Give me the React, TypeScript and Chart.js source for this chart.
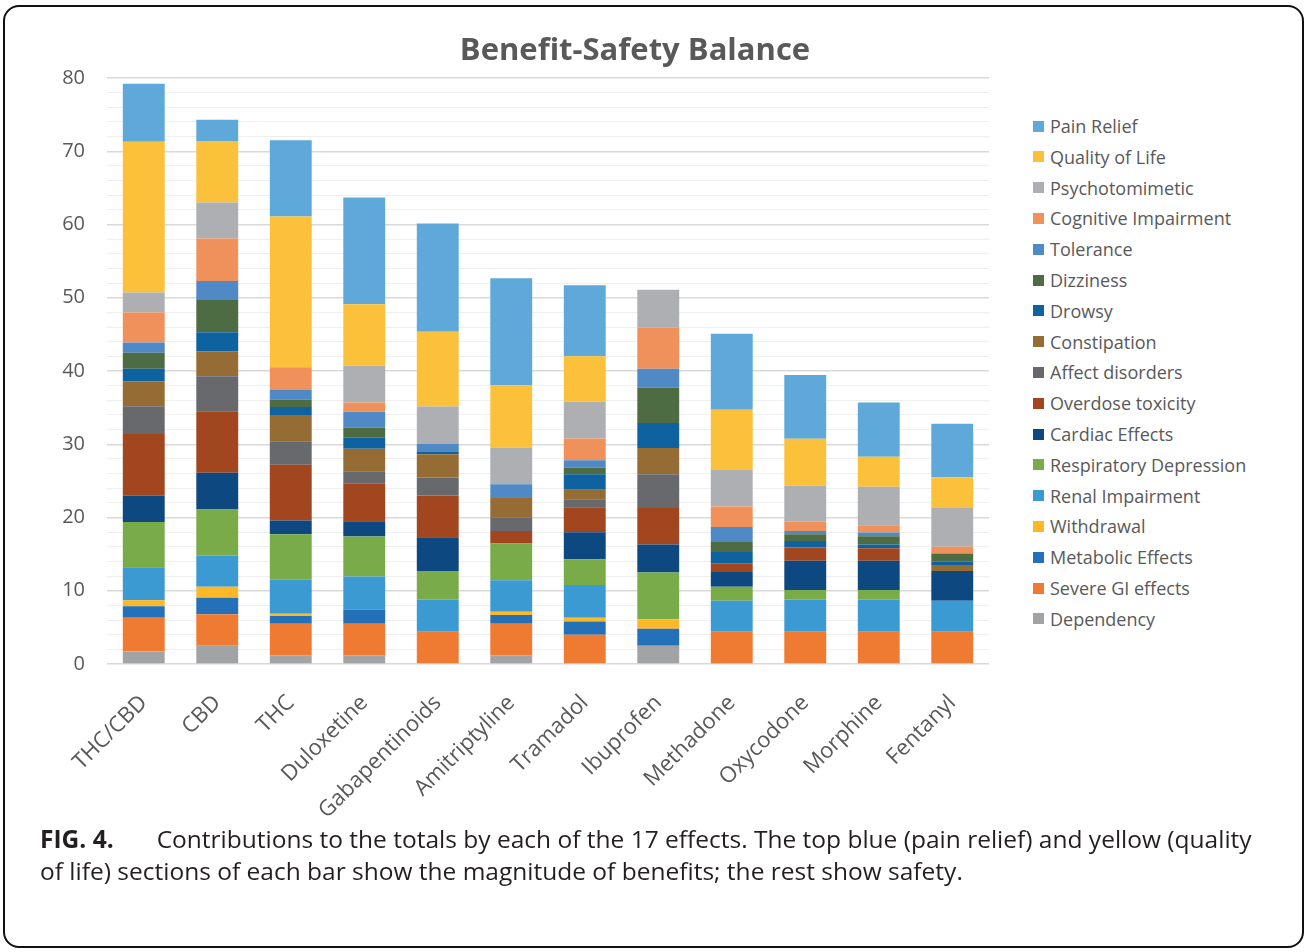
import React, { useEffect, useRef } from "react";
import { Chart, registerables } from "chart.js";

Chart.register(...registerables);

const categories = ["THC/CBD", "CBD", "THC", "Duloxetine", "Gabapentinoids", "Amitriptyline", "Tramadol", "Ibuprofen", "Methadone", "Oxycodone", "Morphine", "Fentanyl"];

const dependency = [1.7, 2.5, 1.2, 1.2, 0, 1.2, 0, 2.5, 0, 0, 0, 0];
const severeGI = [4.6, 4.3, 4.3, 4.3, 4.4, 4.3, 4.0, 0, 4.4, 4.4, 4.4, 4.4];
const metabolic = [1.6, 2.25, 1.05, 1.9, 0, 1.2, 1.8, 2.3, 0, 0, 0, 0];
const withdrawal = [0.8, 1.5, 0.3, 0, 0, 0.45, 0.5, 1.3, 0, 0, 0, 0];
const renal = [4.5, 4.25, 4.65, 4.55, 4.4, 4.3, 4.5, 0, 4.25, 4.4, 4.4, 4.25];
const respiratory = [6.2, 6.3, 6.2, 5.45, 3.9, 5.0, 3.5, 6.4, 1.9, 1.3, 1.3, 0];
const cardiac = [3.6, 5.0, 1.9, 2.1, 4.6, 0, 3.7, 3.8, 2.0, 4.0, 4.0, 4.05];
const overdose = [8.4, 8.4, 7.6, 5.1, 5.7, 1.7, 3.4, 5.0, 1.2, 1.8, 1.7, 0];
const affect = [3.8, 4.8, 3.2, 1.7, 2.45, 1.9, 1.1, 4.6, 0, 0, 0, 0];
const constipation = [3.4, 3.4, 3.6, 3.1, 3.2, 2.6, 1.3, 3.6, 0, 0, 0, 0.8];
const drowsy = [1.7, 2.6, 1.1, 1.5, 0.3, 0, 2.1, 3.4, 1.55, 0.9, 0.5, 0.45];
const dizziness = [2.2, 4.4, 1.0, 1.4, 0, 0, 0.9, 4.8, 1.45, 0.9, 1.15, 1.15];
const tolerance = [1.4, 2.6, 1.3, 2.15, 1.1, 1.9, 1.0, 2.6, 1.95, 0.45, 0.5, 0];
const cognitive = [4.1, 5.8, 3.1, 1.25, 0, 0, 3.0, 5.6, 2.8, 1.3, 1.0, 0.9];
const psychotomimetic = [2.7, 4.9, 0, 5.0, 5.1, 5.0, 5.0, 5.2, 5.0, 4.9, 5.25, 5.3];
const qualityOfLife = [20.6, 8.4, 20.6, 8.4, 10.2, 8.5, 6.2, 0, 8.2, 6.4, 4.1, 4.2];
const painRelief = [7.9, 2.9, 10.4, 14.6, 14.8, 14.6, 9.7, 0, 10.4, 8.7, 7.4, 7.3];

const yTicks = [0, 10, 20, 30, 40, 50, 60, 70, 80];

// bottom-to-top stacking order
const seriesNames = ["Dependency", "Severe GI effects", "Metabolic Effects", "Withdrawal", "Renal Impairment", "Respiratory Depression", "Cardiac Effects", "Overdose toxicity", "Affect disorders", "Constipation", "Drowsy", "Dizziness", "Tolerance", "Cognitive Impairment", "Psychotomimetic", "Quality of Life", "Pain Relief"];
const seriesValues = [dependency, severeGI, metabolic, withdrawal, renal, respiratory, cardiac, overdose, affect, constipation, drowsy, dizziness, tolerance, cognitive, psychotomimetic, qualityOfLife, painRelief];
const seriesColors = ["#a2a3a5", "#ef7b32", "#2471b9", "#fcb827", "#3c9ad3", "#79ab49", "#0d4880", "#a1461f", "#68696c", "#956c33", "#0f62a0", "#4e6c44", "#4f89c6", "#f0915b", "#aeafb2", "#fbc13a", "#5ea9da"];

const GREY = "#595959";

export default function App() {
  const canvasRef = useRef<HTMLCanvasElement | null>(null);

  useEffect(() => {
    const canvas = canvasRef.current;
    if (!canvas) return;
    const chart = new Chart(canvas, {
      type: "bar",
      data: {
        labels: categories,
        datasets: seriesNames.map((name, i) => ({
          label: name,
          data: seriesValues[i],
          backgroundColor: seriesColors[i],
          borderWidth: 0,
          categoryPercentage: 1,
          barPercentage: 0.57,
        })),
      },
      options: {
        responsive: false,
        animation: false,
        devicePixelRatio: 1,
        layout: { padding: { left: 0, right: 11, top: 78, bottom: 0 } },
        plugins: {
          legend: { display: false },
          tooltip: { enabled: false },
          title: { display: false },
        },
        scales: {
          x: {
            stacked: true,
            grid: { display: false },
            border: { display: false },
            ticks: {
              color: GREY,
              font: { family: "Open Sans", size: 22 },
              minRotation: 45,
              maxRotation: 45,
              autoSkip: false,
              padding: 18,
            },
            afterFit: (scale: any) => {
              scale.height = 166;
            },
          },
          y: {
            stacked: true,
            min: 0,
            max: 80,
            border: { display: false },
            grid: {
              drawTicks: false,
              color: (ctx: any) => (ctx.tick && yTicks.includes(ctx.tick.value) ? "#d9d9d9" : "#efefef"),
              lineWidth: (ctx: any) => (ctx.tick && yTicks.includes(ctx.tick.value) ? 1.5 : 1),
            },
            ticks: {
              stepSize: 2,
              autoSkip: false,
              color: GREY,
              padding: 22,
              font: { family: "Open Sans", size: 20 },
              callback: (v: any) => (yTicks.includes(Number(v)) ? String(v) : ""),
            },
            afterFit: (scale: any) => {
              scale.width = 107;
            },
          },
        },
      },
    });
    return () => chart.destroy();
  }, []);

  const legendItems = seriesNames.map((n, i) => ({ name: n, color: seriesColors[i] })).reverse();

  return (
    <div style={{ position: "absolute", left: 0, top: 0, width: 1307, height: 952, background: "#fff", overflow: "hidden" }}>
      <div
        style={{
          position: "absolute",
          left: 3,
          top: 5,
          width: 1297,
          height: 939,
          border: "2px solid #111",
          borderRadius: 16,
        }}
      />
      <canvas ref={canvasRef} width={1000} height={830} style={{ position: "absolute", left: 0, top: 0, width: 1000, height: 830 }} />
      <div
        style={{
          position: "absolute",
          left: 285,
          width: 700,
          top: 27,
          textAlign: "center",
          fontFamily: "Open Sans",
          fontWeight: 700,
          fontSize: 31,
          color: GREY,
          lineHeight: "42px",
        }}
      >
        Benefit-Safety Balance
      </div>
      {legendItems.map((it, i) => (
        <div
          key={it.name}
          style={{
            position: "absolute",
            left: 1033,
            top: 111 + i * 30.8,
            height: 30,
            display: "flex",
            alignItems: "center",
            fontFamily: "Open Sans",
            fontSize: 18,
            color: GREY,
            whiteSpace: "nowrap",
          }}
        >
          <span style={{ display: "inline-block", width: 11, height: 11, background: it.color, marginRight: 6 }} />
          {it.name}
        </div>
      ))}
      <div
        style={{
          position: "absolute",
          left: 40,
          top: 823,
          fontFamily: "Open Sans",
          fontSize: 24.5,
          lineHeight: "32px",
          color: "#231f20",
          whiteSpace: "nowrap",
        }}
      >
        <span style={{ fontWeight: 700, marginRight: 43 }}>FIG. 4.</span>
        Contributions to the totals by each of the 17 effects. The top blue (pain relief) and yellow (quality
        <br />
        of life) sections of each bar show the magnitude of benefits; the rest show safety.
      </div>
    </div>
  );
}
